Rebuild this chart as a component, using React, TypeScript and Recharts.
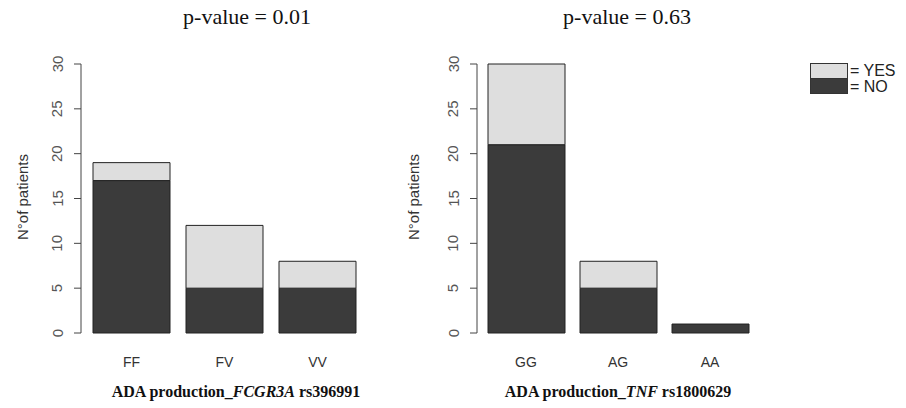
import { BarChart, Bar, XAxis, YAxis } from "recharts"

// left panel: FCGR3A rs396991
const genotypesA = ["FF", "FV", "VV"]
const noA = [17, 5, 5]
const yesA = [2, 7, 3]

// right panel: TNF rs1800629
const genotypesB = ["GG", "AG", "AA"]
const noB = [21, 5, 1]
const yesB = [9, 3, 0]

const yTicks = [0, 5, 10, 15, 20, 25, 30]

const DARK = "#3b3b3b"
const LIGHT = "#dedede"
const sans = "Liberation Sans, Arial, sans-serif"
const serif = "'Liberation Serif', 'Times New Roman', serif"

const dataA = genotypesA.map((g, i) => ({ g, no: noA[i], yes: yesA[i] }))
const dataB = genotypesB.map((g, i) => ({ g, no: noB[i], yes: yesB[i] }))

const RotTick = (props: any) => {
  const { x, y, payload } = props
  const tx = x - 15
  return (
    <text
      x={tx}
      y={y}
      transform={`rotate(-90 ${tx} ${y})`}
      textAnchor="middle"
      dominantBaseline="central"
      fontSize={15}
      fill="#555"
      fontFamily={sans}
    >
      {payload.value}
    </text>
  )
}

const YLabel = (labelX: number) => () => {
  const cy = 197
  return (
    <text
      x={labelX}
      y={cy}
      transform={`rotate(-90 ${labelX} ${cy})`}
      textAnchor="middle"
      dominantBaseline="central"
      fontSize={15}
      fill="#333"
      fontFamily={sans}
    >
      N°of patients
    </text>
  )
}

function Panel({ data, left, axisX, padL, padR, labelX }: any) {
  return (
    <div style={{ position: "absolute", left, top: 0 }}>
      <BarChart
        width={380}
        height={408}
        data={data}
        margin={{ top: 64, right: 380 - axisX - 286, bottom: 45, left: axisX - 80 }}
        barSize={77}
      >
        <XAxis
          dataKey="g"
          axisLine={false}
          tickLine={false}
          tickSize={0}
          tickMargin={24}
          height={30}
          padding={{ left: padL, right: padR }}
          tick={{ fontSize: 14, fill: "#333", fontFamily: sans }}
        />
        <YAxis
          domain={[0, 30]}
          ticks={yTicks}
          width={80}
          tickSize={7}
          axisLine={{ stroke: "#444" }}
          tickLine={{ stroke: "#444" }}
          tick={<RotTick />}
          label={{ content: YLabel(labelX) } as any}
        />
        <Bar dataKey="no" stackId="s" fill={DARK} stroke="#222" strokeWidth={1} isAnimationActive={false} />
        <Bar dataKey="yes" stackId="s" fill={LIGHT} stroke="#222" strokeWidth={1} isAnimationActive={false} />
      </BarChart>
    </div>
  )
}

export default function App() {
  return (
    <div
      style={{
        position: "absolute",
        left: 0,
        top: 0,
        width: 906,
        height: 408,
        background: "#fff",
        overflow: "hidden",
      }}
    >
      <Panel data={dataA} left={0} axisX={81} padL={4} padR={3} labelX={22} />
      <Panel data={dataB} left={397} axisX={80} padL={3} padR={7} labelX={16} />

      <div style={{ position: "absolute", left: 147, top: 4, width: 200, textAlign: "center", fontFamily: serif, fontSize: 22, color: "#111" }}>
        p-value = 0.01
      </div>
      <div style={{ position: "absolute", left: 527, top: 4, width: 200, textAlign: "center", fontFamily: serif, fontSize: 22, color: "#111" }}>
        p-value = 0.63
      </div>

      <div style={{ position: "absolute", left: 86, top: 383, width: 300, textAlign: "center", fontFamily: serif, fontSize: 16, fontWeight: "bold", color: "#111" }}>
        ADA production_<i>FCGR3A</i> rs396991
      </div>
      <div style={{ position: "absolute", left: 468, top: 383, width: 300, textAlign: "center", fontFamily: serif, fontSize: 16, fontWeight: "bold", color: "#111" }}>
        ADA production_<i>TNF</i> rs1800629
      </div>

      <div style={{ position: "absolute", left: 810, top: 63 }}>
        <svg width={96} height={32}>
          <rect x={0.5} y={0.5} width={37} height={15} fill={LIGHT} stroke="#333" />
          <rect x={0.5} y={15.5} width={37} height={15} fill={DARK} stroke="#333" />
          <text x={40} y={13} fontSize={16} fill="#222" fontFamily={sans}>= YES</text>
          <text x={40} y={29} fontSize={16} fill="#222" fontFamily={sans}>= NO</text>
        </svg>
      </div>
    </div>
  )
}
